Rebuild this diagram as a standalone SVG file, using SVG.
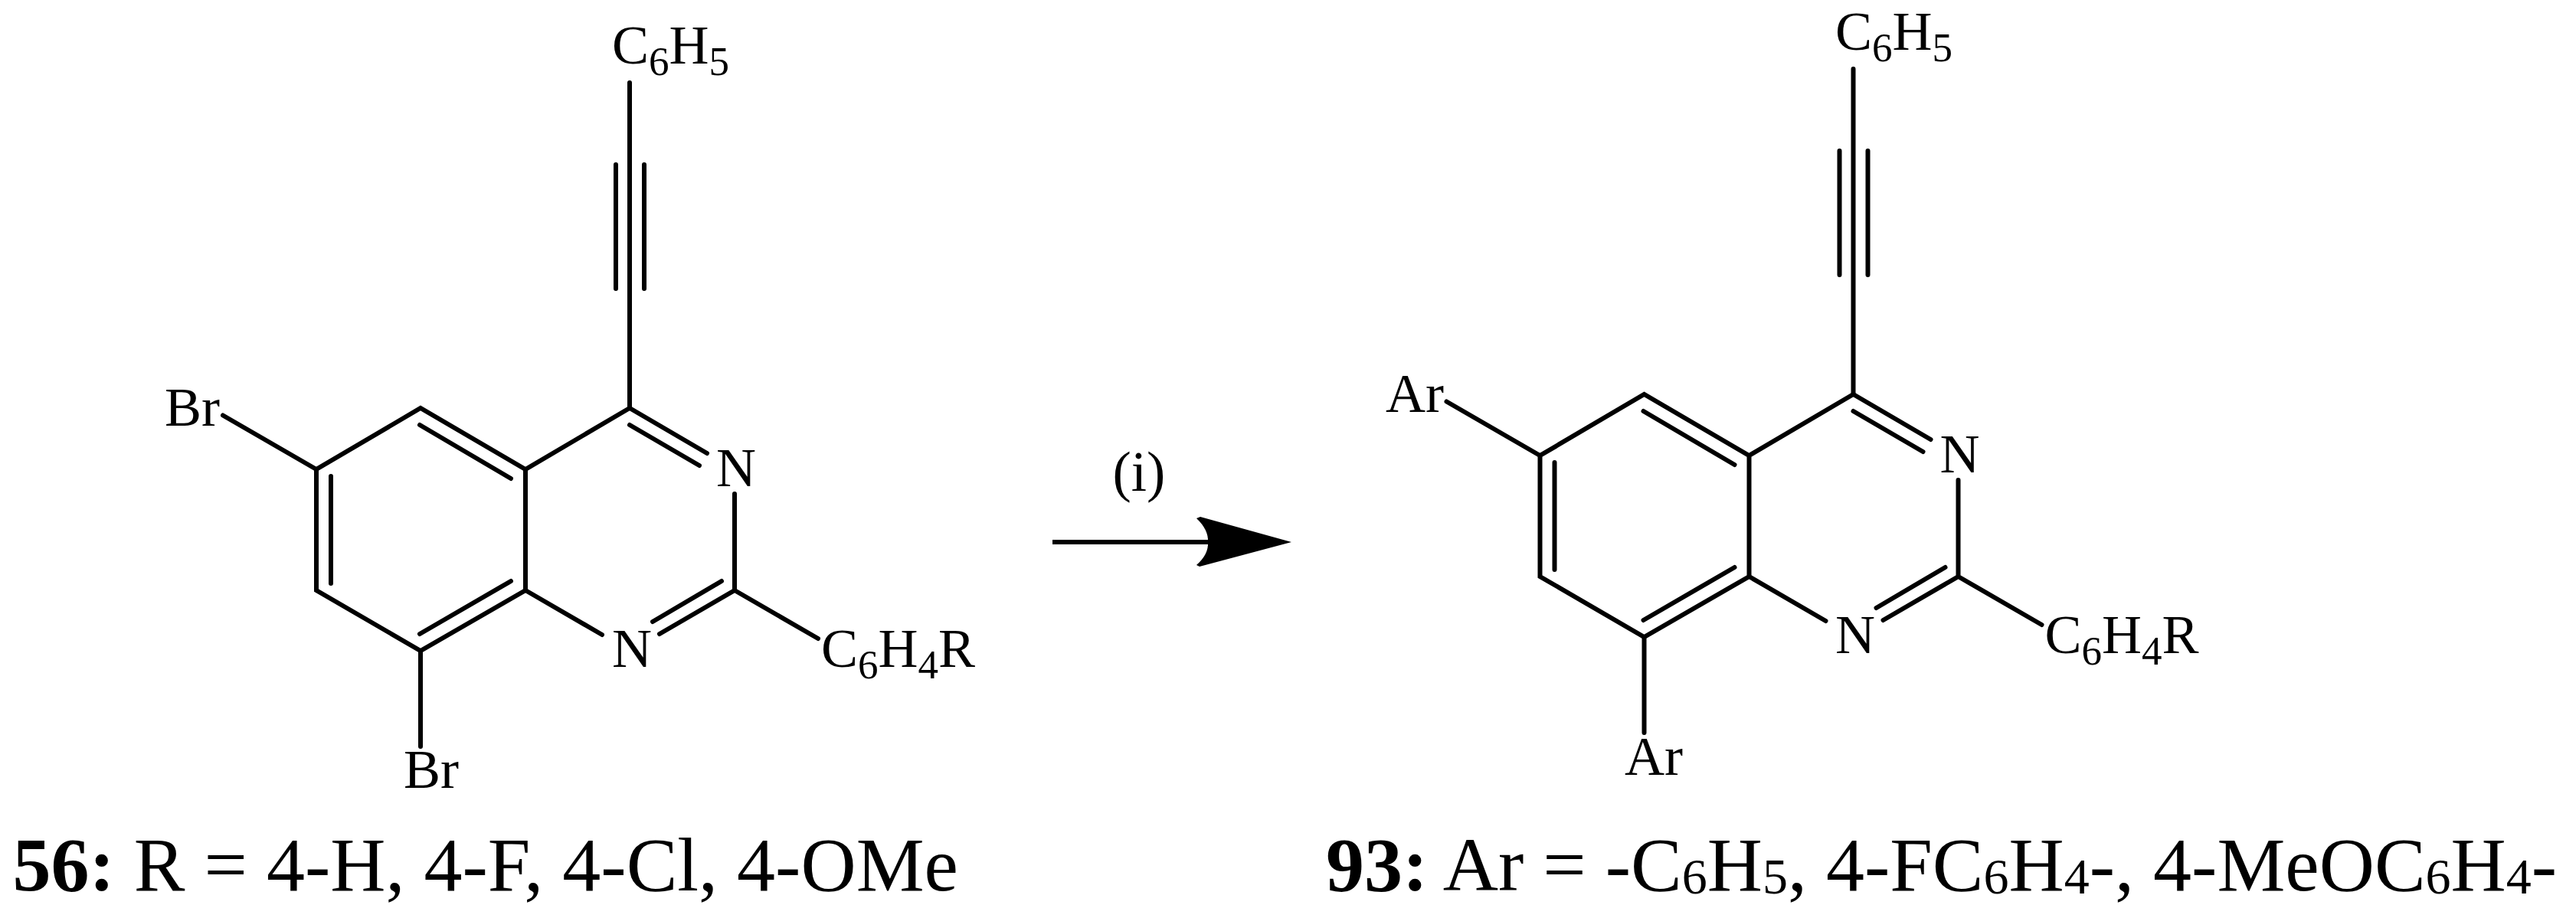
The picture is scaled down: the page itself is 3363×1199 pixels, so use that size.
<svg xmlns="http://www.w3.org/2000/svg" width="3363" height="1199" viewBox="0 0 3363 1199">
<style>
.b{stroke:#000;stroke-width:6;fill:none;stroke-linecap:round;stroke-linejoin:miter}
.l{font-family:"Liberation Serif",serif;font-size:72px;fill:#000}
.c{font-family:"Liberation Serif",serif;font-size:100px;fill:#000}
.s{font-size:53px}
.t{font-size:66px}
.bold{font-weight:bold}
</style>
<rect width="3363" height="1199" fill="#fff"/>
<defs>
<g id="core" class="b">
<path d="M822 108V533M804 215V377M841 215V377"/>
<path d="M822 533L686 613L549 533L413 613V771L549 850L686 771V613"/>
<path d="M822 533L923 592M822 555L913 608"/>
<path d="M548 555L667 625M432 622V762M548 828L667 759"/>
<path d="M686 771L786 829M959 645V771L861 828M942 759L852 812M959 771L1068 834"/>
<path d="M413 613L291 542.5M549 850V975"/>
</g>
</defs>
<g id="connectors">
<g id="arrow"><path d="M1374 708H1580" stroke="#000" stroke-width="6" fill="none"/><path d="M1686 708L1567 675L1562 677Q1578 692 1577 708Q1578 724 1562 738L1566 740Z" fill="#000"/></g>
</g>
<g id="compound-56">
<use href="#core"/>
<text class="l" x="799" y="83">C<tspan class="s" dy="15">6</tspan><tspan dy="-15">H</tspan><tspan class="s" dy="15">5</tspan></text>
<text class="l" x="215" y="556">Br</text>
<text class="l" x="527" y="1029">Br</text>
<text class="l" x="961" y="635" text-anchor="middle">N</text>
<text class="l" x="825" y="871" text-anchor="middle">N</text>
<text class="l" x="1072" y="871">C<tspan class="s" dy="15">6</tspan><tspan dy="-15">H</tspan><tspan class="s" dy="15">4</tspan><tspan dy="-15">R</tspan></text>
<text class="c" x="16.5" y="1163"><tspan class="bold">56:</tspan> R = 4-H, 4-F, 4-Cl, 4-OMe</text>
</g>
<g id="reagent"><text class="l" style="font-size:73px" x="1452.5" y="641">(i)</text></g>
<g id="compound-93">
<use href="#core" transform="translate(1597.5,-18)"/>
<text class="l" x="2396" y="65">C<tspan class="s" dy="15">6</tspan><tspan dy="-15">H</tspan><tspan class="s" dy="15">5</tspan></text>
<text class="l" x="1809" y="538">Ar</text>
<text class="l" x="2121" y="1012">Ar</text>
<text class="l" x="2558.5" y="617" text-anchor="middle">N</text>
<text class="l" x="2422" y="853" text-anchor="middle">N</text>
<text class="l" x="2669.5" y="853">C<tspan class="s" dy="15">6</tspan><tspan dy="-15">H</tspan><tspan class="s" dy="15">4</tspan><tspan dy="-15">R</tspan></text>
<text class="c" x="1731" y="1163"><tspan class="bold">93:</tspan> Ar = -C<tspan class="t" dy="4">6</tspan><tspan dy="-4">H</tspan><tspan class="t" dy="4">5</tspan><tspan dy="-4">, 4-FC</tspan><tspan class="t" dy="4">6</tspan><tspan dy="-4">H</tspan><tspan class="t" dy="4">4</tspan><tspan dy="-4">-, 4-MeOC</tspan><tspan class="t" dy="4">6</tspan><tspan dy="-4">H</tspan><tspan class="t" dy="4">4</tspan><tspan dy="-4">-</tspan></text>
</g>
</svg>
